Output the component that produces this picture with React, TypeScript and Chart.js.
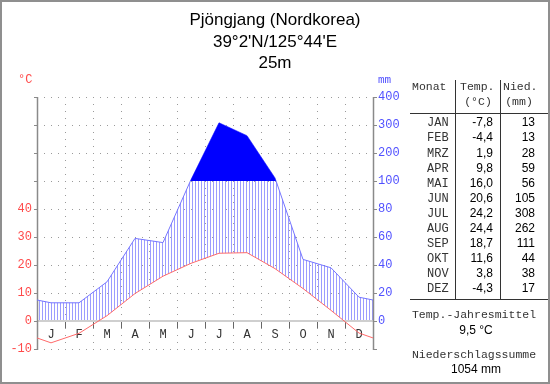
import React, { useEffect, useRef } from "react";
import { Chart, registerables } from "chart.js";

Chart.register(...registerables);

// ---------- data ----------
const MONTH_LETTERS = ["J", "F", "M", "A", "M", "J", "J", "A", "S", "O", "N", "D"];
const MONTH_NAMES = ["JAN", "FEB", "MRZ", "APR", "MAI", "JUN", "JUL", "AUG", "SEP", "OKT", "NOV", "DEZ"];
const TEMPERATURE = [-7.8, -4.4, 1.9, 9.8, 16.0, 20.6, 24.2, 24.4, 18.7, 11.6, 3.8, -4.3];
const PRECIPITATION = [13, 13, 28, 59, 56, 105, 308, 262, 111, 44, 38, 17];
const TEMP_TICK_LABELS = [-10, 0, 10, 20, 30, 40];
const PRECIP_TICK_LABELS = [0, 20, 40, 60, 80, 100, 200, 300, 400];
const TITLE_LINES = ["Pjöngjang (Nordkorea)", "39°2'N/125°44'E", "25m"];

const Y_MIN = -10;
const Y_MAX = 80;

// Walter-Lieth scale: 10 °C = 20 mm up to 100 mm, above that 10 °C = 100 mm
const mmToScale = (mm: number) => (mm <= 100 ? mm / 2 : 50 + (mm - 100) / 10);

// points at month centres, closed at both edges with the Dec/Jan wrap value
function withWrapEdges(values: number[]) {
  const edge = (values[0] + values[values.length - 1]) / 2;
  return [
    { x: 0, y: edge },
    ...values.map((v, i) => ({ x: i + 0.5, y: v })),
    { x: 12, y: edge },
  ];
}

const fmt = (v: number) => v.toFixed(1).replace(".", ",");

const TEMP_COLOR = "#ff6a6a";
const TEMP_TEXT = "#ff4a4a";
const PREC_COLOR = "#7676ff";
const PREC_TEXT = "#5050ff";
const HATCH_COLOR = "#9c9cff";
const MONO = '"Liberation Mono", "DejaVu Sans Mono", monospace';
const SANS = '"Liberation Sans", Arial, sans-serif';

type Pt = { x: number; y: number };
function interp(pts: Pt[], xv: number) {
  for (let i = 0; i < pts.length - 1; i++) {
    const a = pts[i], b = pts[i + 1];
    if (xv >= a.x && xv <= b.x) {
      const t = (xv - a.x) / (b.x - a.x);
      return a.y + t * (b.y - a.y);
    }
  }
  return pts[pts.length - 1].y;
}

function Txt(props: {
  x: number; y: number; size: number; mono?: boolean; align?: "left" | "right" | "center";
  color?: string; children: React.ReactNode;
}) {
  const { x, y, size, mono, align = "left", color = "#000", children } = props;
  const asc = mono ? 0.833 : 0.905;
  const desc = mono ? 0.3 : 0.212;
  const lh = Math.ceil(size * 1.2);
  const top = y - lh / 2 - ((asc - desc) / 2) * size;
  const style: React.CSSProperties = {
    position: "absolute", top, whiteSpace: "pre", fontFamily: mono ? MONO : SANS,
    fontSize: size, lineHeight: lh + "px", color,
  };
  if (align === "left") style.left = x;
  else if (align === "right") style.right = 550 - x;
  else { style.left = x - 200; style.width = 400; style.textAlign = "center"; }
  return <div style={style}>{children}</div>;
}

function Rule(props: { x: number; y: number; w: number; h: number }) {
  return (
    <div style={{ position: "absolute", left: props.x, top: props.y, width: props.w, height: props.h, background: "#333" }} />
  );
}

export default function App() {
  const canvasRef = useRef<HTMLCanvasElement | null>(null);

  useEffect(() => {
    const tempPts = withWrapEdges(TEMPERATURE);
    const precPts = withWrapEdges(PRECIPITATION.map(mmToScale));

    const climatePlugin = {
      id: "climate",
      beforeDatasetsDraw(chart: any) {
        const { ctx, chartArea: a } = chart;
        const xs = chart.scales.x;
        const ys = chart.scales.y;
        const line = (x1: number, y1: number, x2: number, y2: number) => {
          ctx.beginPath(); ctx.moveTo(x1, y1); ctx.lineTo(x2, y2); ctx.stroke();
        };
        ctx.save();
        // dotted grid
        ctx.strokeStyle = "#9a9a9a";
        ctx.lineWidth = 1;
        ctx.setLineDash([1, 6]);
        for (let v = Y_MIN; v <= Y_MAX; v += 10) {
          if (v === 0) continue;
          const py = Math.round(ys.getPixelForValue(v)) + 0.5;
          line(a.left, py, a.right, py);
        }
        for (let m = 1; m < 12; m++) {
          const px = Math.round(xs.getPixelForValue(m)) + 0.5;
          line(px, a.top, px, a.bottom);
        }
        ctx.setLineDash([]);

        // humid hatching between max(T,0) and min(P,100mm)
        ctx.strokeStyle = HATCH_COLOR;
        ctx.lineWidth = 1;
        for (let px = a.left + 2; px < a.right; px += 3) {
          const xv = xs.getValueForPixel(px + 0.5);
          const t = interp(tempPts, xv);
          const p = interp(precPts, xv);
          const lo = Math.max(t, 0);
          const hi = Math.min(p, 50);
          if (hi > lo) line(px + 0.5, ys.getPixelForValue(lo), px + 0.5, ys.getPixelForValue(hi));
        }

        // zero line
        const y0 = ys.getPixelForValue(0);
        ctx.strokeStyle = "#cfcfcf";
        ctx.lineWidth = 2;
        line(a.left, y0, a.right, y0);

        // month boundary ticks below zero
        ctx.strokeStyle = "#666";
        ctx.lineWidth = 1;
        for (let m = 1; m < 12; m++) {
          const px = Math.round(xs.getPixelForValue(m)) + 0.5;
          line(px, y0 + 1, px, y0 + 7);
        }

        // axes
        ctx.strokeStyle = "#8a8a8a";
        ctx.lineWidth = 1.5;
        line(a.left + 0.5, a.top, a.left + 0.5, a.bottom + 1);
        line(a.right + 0.5, a.top, a.right + 0.5, a.bottom + 1);
        ctx.lineWidth = 1;
        for (let v = Y_MIN; v <= Y_MAX; v += 10) {
          const py = Math.round(ys.getPixelForValue(v)) + 0.5;
          line(a.left - 3, py, a.left, py);
          line(a.right, py, a.right + 4, py);
        }

        // tick labels
        ctx.font = `12px ${MONO}`;
        ctx.textBaseline = "middle";
        ctx.fillStyle = TEMP_TEXT;
        ctx.textAlign = "right";
        TEMP_TICK_LABELS.forEach((v) => ctx.fillText(String(v), a.left - 5, ys.getPixelForValue(v)));
        ctx.fillStyle = PREC_TEXT;
        ctx.textAlign = "left";
        PRECIP_TICK_LABELS.forEach((v) => ctx.fillText(String(v), a.right + 5, ys.getPixelForValue(mmToScale(v))));

        // unit labels
        ctx.fillStyle = TEMP_TEXT;
        ctx.textAlign = "left";
        ctx.fillText("°C", 18, 80);
        ctx.fillStyle = PREC_TEXT;
        ctx.font = `11px ${MONO}`;
        ctx.fillText("mm", a.right + 5, 80);

        // month letters
        ctx.font = `12px ${MONO}`;
        ctx.fillStyle = "#333";
        ctx.textAlign = "center";
        MONTH_LETTERS.forEach((l, i) => ctx.fillText(l, xs.getPixelForValue(i + 0.5), y0 + 14));
        ctx.restore();
      },
    };

    const chart = new Chart(canvasRef.current as HTMLCanvasElement, {
      type: "line",
      data: {
        datasets: [
          {
            label: "Temperatur",
            data: tempPts,
            borderColor: TEMP_COLOR,
            borderWidth: 1,
            pointRadius: 0,
            fill: false,
            tension: 0,
            order: 0,
          },
          {
            label: "Niederschlag >100",
            data: precPts,
            borderColor: "rgba(0,0,0,0)",
            borderWidth: 0,
            pointRadius: 0,
            fill: { target: { value: 50 }, above: "#0000ff", below: "rgba(0,0,0,0)" },
            tension: 0,
            order: 1,
          },
          {
            label: "Niederschlag",
            data: precPts,
            borderColor: PREC_COLOR,
            borderWidth: 1,
            pointRadius: 0,
            fill: false,
            tension: 0,
            order: 2,
          },
        ],
      } as any,
      options: {
        animation: false,
        responsive: false,
        events: [],
        layout: { padding: { left: 37, top: 97, right: 177, bottom: 35 } },
        scales: {
          x: { type: "linear", min: 0, max: 12, display: false },
          y: { type: "linear", min: Y_MIN, max: Y_MAX, display: false },
        },
        plugins: { legend: { display: false }, title: { display: false }, tooltip: { enabled: false } },
      } as any,
      plugins: [climatePlugin],
    });
    return () => chart.destroy();
  }, []);

  const meanT = TEMPERATURE.reduce((s, v) => s + v, 0) / TEMPERATURE.length;
  const sumP = PRECIPITATION.reduce((s, v) => s + v, 0);
  const rowBase = 127;
  const rowStep = 15.1;

  return (
    <div style={{ position: "absolute", left: 0, top: 0, width: 550, height: 384, background: "#fff", overflow: "hidden" }}>
      <canvas ref={canvasRef} width={550} height={384} style={{ position: "absolute", left: 0, top: 0, width: 550, height: 384 }} />
      {TITLE_LINES.map((t, i) => (
        <Txt key={t} x={275} y={[25, 47, 68][i]} size={17} align="center">{t}</Txt>
      ))}
      {/* table */}
      <Rule x={455} y={80} w={1} h={220} />
      <Rule x={500} y={80} w={1} h={220} />
      <Rule x={410} y={113} w={138} h={1} />
      <Rule x={410} y={299} w={138} h={1} />
      <Txt x={412} y={90} size={11.5} mono color="#333">Monat</Txt>
      <Txt x={460} y={90} size={11.5} mono color="#333">Temp.</Txt>
      <Txt x={503} y={90} size={11.5} mono color="#333">Nied.</Txt>
      <Txt x={478} y={105} size={11.5} mono align="center" color="#333">(°C)</Txt>
      <Txt x={519} y={105} size={11.5} mono align="center" color="#333">(mm)</Txt>
      {MONTH_NAMES.map((m, i) => (
        <React.Fragment key={m}>
          <Txt x={427} y={rowBase + i * rowStep} size={12} mono color="#333">{m}</Txt>
          <Txt x={493} y={rowBase + i * rowStep} size={12} align="right">{fmt(TEMPERATURE[i])}</Txt>
          <Txt x={535} y={rowBase + i * rowStep} size={12} align="right">{String(PRECIPITATION[i])}</Txt>
        </React.Fragment>
      ))}
      <Txt x={474} y={318} size={11.5} mono align="center" color="#333">Temp.-Jahresmittel</Txt>
      <Txt x={476} y={335} size={12} align="center">{fmt(meanT) + " °C"}</Txt>
      <Txt x={474} y={358} size={11.5} mono align="center" color="#333">Niederschlagssumme</Txt>
      <Txt x={476} y={374} size={12} align="center">{sumP + " mm"}</Txt>
      <div style={{ position: "absolute", left: 0, top: 0, width: 550, height: 384, boxSizing: "border-box", border: "2px solid #8f8f8f", pointerEvents: "none" }} />
    </div>
  );
}
